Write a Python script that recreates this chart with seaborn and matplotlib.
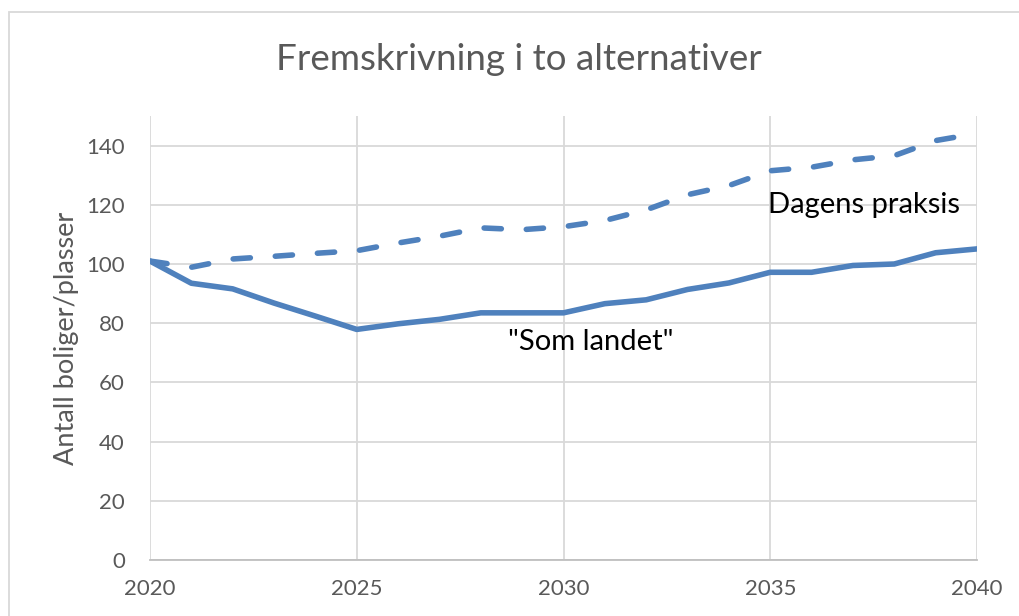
import matplotlib
matplotlib.use("Agg")
import matplotlib.pyplot as plt
import seaborn as sns
import pandas as pd
from matplotlib.patches import Rectangle

years = list(range(2020, 2041))
som_landet = [101.0, 93.5, 91.6, 86.8, 82.4, 77.9, 79.8, 81.3, 83.5, 83.5, 83.5,
              86.6, 87.9, 91.4, 93.6, 97.2, 97.2, 99.5, 100.0, 103.8, 105.1]
dagens_praksis = [101.0, 98.9, 101.7, 102.6, 103.6, 104.5, 107.1, 109.4, 112.2, 111.6, 112.6,
                  114.7, 118.3, 123.4, 126.5, 131.5, 132.7, 135.2, 136.6, 141.7, 144.1]
title = "Fremskrivning i to alternativer"
ylabel = "Antall boliger/plasser"
xticks = [2020, 2025, 2030, 2035, 2040]
yticks = [0, 20, 40, 60, 80, 100, 120, 140]
label_som = '"Som landet"'
label_dagens = "Dagens praksis"

sns.set_style("white")
plt.rcParams['font.family'] = ['Lato', 'DejaVu Sans']

line_color = "#4F81BD"
gray = "#595959"

fig = plt.figure(figsize=(10.19, 6.16), dpi=100)
ax = fig.add_axes([150/1019, 1 - 560/616, (977 - 150)/1019, (560 - 116)/616])

df_s = pd.DataFrame({"year": years, "value": som_landet})
df_d = pd.DataFrame({"year": years, "value": dagens_praksis})

sns.lineplot(data=df_s, x="year", y="value", ax=ax, color=line_color, lw=4.0,
             solid_joinstyle="round", solid_capstyle="round")
sns.lineplot(data=df_d, x="year", y="value", ax=ax, color=line_color, lw=4.0,
             dashes=(3.1, 4.5), dash_capstyle="round", dash_joinstyle="round")

ax.set_xlim(2020, 2040)
ax.set_ylim(0, 150)
ax.set_xticks(xticks)
ax.set_yticks(yticks)
ax.grid(True, color="#D9D9D9", lw=1.3)
ax.set_axisbelow(True)
for s in ["top", "right", "left"]:
    ax.spines[s].set_visible(False)
ax.spines["bottom"].set_color("#BFBFBF")
ax.spines["bottom"].set_linewidth(1.3)
ax.tick_params(axis="both", length=0, labelsize=16, labelcolor=gray)
ax.tick_params(axis="y", pad=18)
ax.tick_params(axis="x", pad=14)
ax.set_xlabel("")
ax.set_ylabel(ylabel, fontsize=19.5, color=gray, labelpad=5)

fig.text(519/1019, 1 - 60/616, title, ha="center", va="center", fontsize=26.5, color=gray)

ax.text(2034.95, 120.0, label_dagens, fontsize=21, color="black", va="center", ha="left")
ax.text(2028.65, 73.5, label_som, fontsize=21, color="black", va="center", ha="left")

fig.patches.append(Rectangle((9/1019, -0.1), 1.2, 1 - 12/616 + 0.1, transform=fig.transFigure,
                             fill=False, edgecolor="#D9D9D9", lw=1.3))

fig.savefig("out.png", dpi=100)
